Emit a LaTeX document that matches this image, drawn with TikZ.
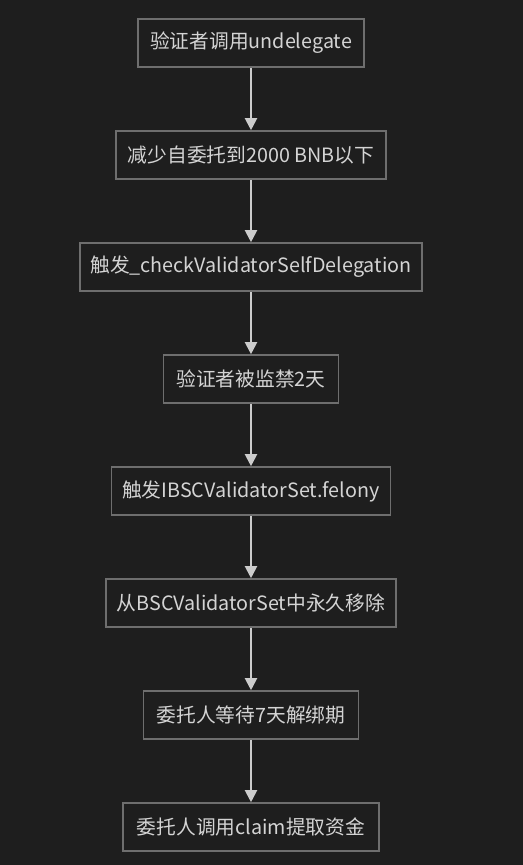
\documentclass[tikz,border=0pt]{standalone}
\usepackage{fontspec}
\setmainfont{Noto Sans CJK SC}
\usetikzlibrary{arrows.meta}
\definecolor{bg}{HTML}{1E1E1E}
\definecolor{edge}{HTML}{6E6E6E}
\definecolor{txt}{HTML}{D4D4D4}
\definecolor{arr}{HTML}{CCCCCC}
\tikzset{
  flowbox/.style={draw=edge, line width=1.2pt, fill=bg, text=txt, inner sep=0pt,
    minimum height=48*0.75pt, font=\fontsize{14.8pt}{17pt}\selectfont},
  flowarrow/.style={draw=arr, line width=1.5pt, -{Triangle[length=9pt,width=9pt]}}
}
\begin{document}
\begin{tikzpicture}[x=0.75pt,y=-0.75pt]
\fill[bg] (0,0) rectangle (523,865);
\useasboundingbox (0,0) rectangle (523,865);
\node[flowbox, minimum width=226*0.75pt] (n1) at (251,43) {验证者调用undelegate};
\node[flowbox, minimum width=270*0.75pt] (n2) at (251,155) {减少自委托到2000 BNB以下};
\node[flowbox, minimum width=342*0.75pt] (n3) at (251,267) {触发\_checkValidatorSelfDelegation};
\node[flowbox, minimum width=175*0.75pt] (n4) at (251,379) {验证者被监禁2天};
\node[flowbox, minimum width=279*0.75pt] (n5) at (251,491) {触发IBSCValidatorSet.felony};
\node[flowbox, minimum width=290*0.75pt] (n6) at (251,603) {从BSCValidatorSet中永久移除};
\node[flowbox, minimum width=215*0.75pt] (n7) at (251,715) {委托人等待7天解绑期};
\node[flowbox, minimum width=256*0.75pt] (n8) at (251,827) {委托人调用claim提取资金};
\foreach \a/\b in {n1/n2,n2/n3,n3/n4,n4/n5,n5/n6,n6/n7,n7/n8}
  \draw[flowarrow] (\a) -- (\b);
\end{tikzpicture}
\end{document}
